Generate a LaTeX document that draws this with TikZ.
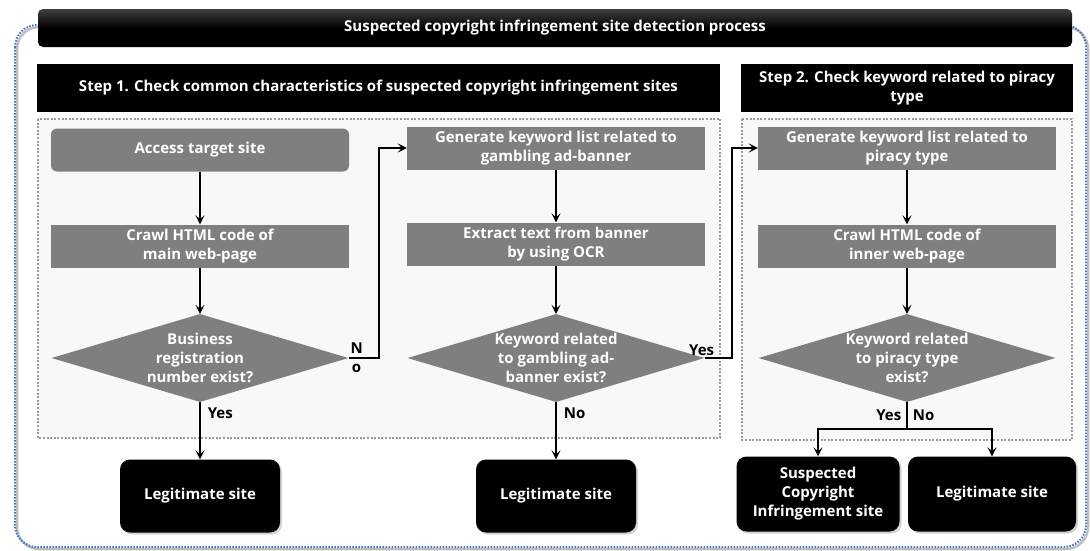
\documentclass[tikz,border=0pt]{standalone}
\usepackage{fontspec}
\setmainfont{Open Sans}
\usetikzlibrary{shapes.geometric,arrows.meta,shadows}

\definecolor{boxgray}{HTML}{7F7F7F}
\definecolor{areagray}{HTML}{F8F8F8}
\definecolor{dotgray}{HTML}{9A9A9A}
\definecolor{frameblue}{HTML}{4472C4}

\tikzset{
    txt/.style={font=\bfseries\fontsize{15}{19}\selectfont},
    graybox/.style={txt, fill=boxgray, text=white, align=center,
        minimum width=298pt, minimum height=43pt, inner sep=0pt},
    decision/.style={txt, diamond, aspect=3.4, fill=boxgray, text=white,
        align=center, minimum width=297pt, minimum height=88pt, inner sep=0pt},
    endbox/.style={txt, fill=black, text=white, align=center, rounded corners=10pt,
        minimum width=160pt, minimum height=73pt,
        drop shadow={shadow xshift=2pt, shadow yshift=-2pt, opacity=.35}},
    header/.style={font=\bfseries\fontsize{15}{19}\selectfont, fill=black,
        text=white, align=center, minimum height=48pt, inner sep=0pt},
    region/.style={draw=dotgray, fill=areagray, line width=2pt, dash pattern=on 2pt off 1.6pt},
    flow/.style={line width=1.6pt, -{Stealth[length=9pt,width=9pt,inset=4pt]}},
    lbl/.style={txt, inner sep=2pt}
}

\begin{document}
\begin{tikzpicture}[x=1pt,y=-1pt]
    \useasboundingbox (0,0) rectangle (1090,550);

    % outer frame
    \draw[line width=2.5pt, color=gray!50, rounded corners=22pt] (17,27) rectangle (1088,549);
    \draw[line width=2pt, color=frameblue, dash pattern=on 1.5pt off 1.5pt, rounded corners=22pt]
        (15,25) rectangle (1086,547);

    \node[font=\bfseries\fontsize{15}{19}\selectfont, text=white, rounded corners=5pt,
        top color=black!75, bottom color=black, middle color=black,
        minimum width=1034pt, minimum height=38pt, inner sep=0pt]
        (title) at (555,28) {Suspected copyright infringement site detection process};

    \node[header, minimum width=683pt] (step1) at (378.5,88)
        {Step 1. Check common characteristics of suspected copyright infringement sites};
    \node[header, minimum width=332pt] (step2) at (907,88)
        {Step 2. Check keyword related to piracy\\type};

    \draw[region] (38,119) rectangle (720,438);
    \draw[region] (742,119) rectangle (1072,440);

    % step 1
    \node[graybox, rounded corners=6pt] (access) at (200,150) {Access target site};
    \node[graybox] (crawlmain) at (200,246) {Crawl HTML code of\\main web-page};
    \node[decision] (bizreg) at (200,358) {Business\\registration\\number exist?};
    \node[endbox] (legitA) at (200,496) {Legitimate site};

    \node[graybox] (gengamble) at (556,148) {Generate keyword list related to\\gambling ad-banner};
    \node[graybox] (ocr) at (556,244) {Extract text from banner\\by using OCR};
    \node[decision] (gamblekw) at (556,358) {Keyword related\\to gambling ad-\\banner exist?};
    \node[endbox] (legitB) at (556,496) {Legitimate site};

    % step 2
    \node[graybox] (genpiracy) at (907,148) {Generate keyword list related to\\piracy type};
    \node[graybox] (crawlinner) at (907,246) {Crawl HTML code of\\inner web-page};
    \node[decision] (piracykw) at (907,358) {Keyword related\\to piracy type\\exist?};
    \node[endbox, minimum width=163pt, minimum height=75pt] (suspect) at (818,494)
        {Suspected\\Copyright\\Infringement site};
    \node[endbox, minimum width=168pt, minimum height=75pt] (legitC) at (992,494)
        {Legitimate site};

    \draw[flow] (access) -- (crawlmain);
    \draw[flow] (crawlmain) -- (bizreg);
    \draw[flow] (bizreg) -- (legitA) node[lbl, anchor=west, pos=.2, xshift=5pt] {Yes};
    \draw[flow] (bizreg.east) -- ++(30,0) node[lbl, anchor=west, pos=0, align=center,
        inner sep=1pt] {N\\o} |- (gengamble.west);

    \draw[flow] (gengamble) -- (ocr);
    \draw[flow] (ocr) -- (gamblekw);
    \draw[flow] (gamblekw) -- (legitB) node[lbl, anchor=west, pos=.2, xshift=5pt] {No};
    \draw[flow] (gamblekw.east) -- ++(27,0) node[lbl, anchor=south, pos=0, xshift=-3pt] {Yes}
        |- (genpiracy.west);

    \draw[flow] (genpiracy) -- (crawlinner);
    \draw[flow] (crawlinner) -- (piracykw);
    \draw[line width=1.6pt] (piracykw.south) -- ++(0,27) coordinate (split)
        node[lbl, pos=.5, anchor=east, xshift=-3pt] {Yes}
        node[lbl, pos=.5, anchor=west, xshift=3pt] {No};
    \draw[flow] (split) -| (suspect.north);
    \draw[flow] (split) -| (legitC.north);
\end{tikzpicture}
\end{document}
